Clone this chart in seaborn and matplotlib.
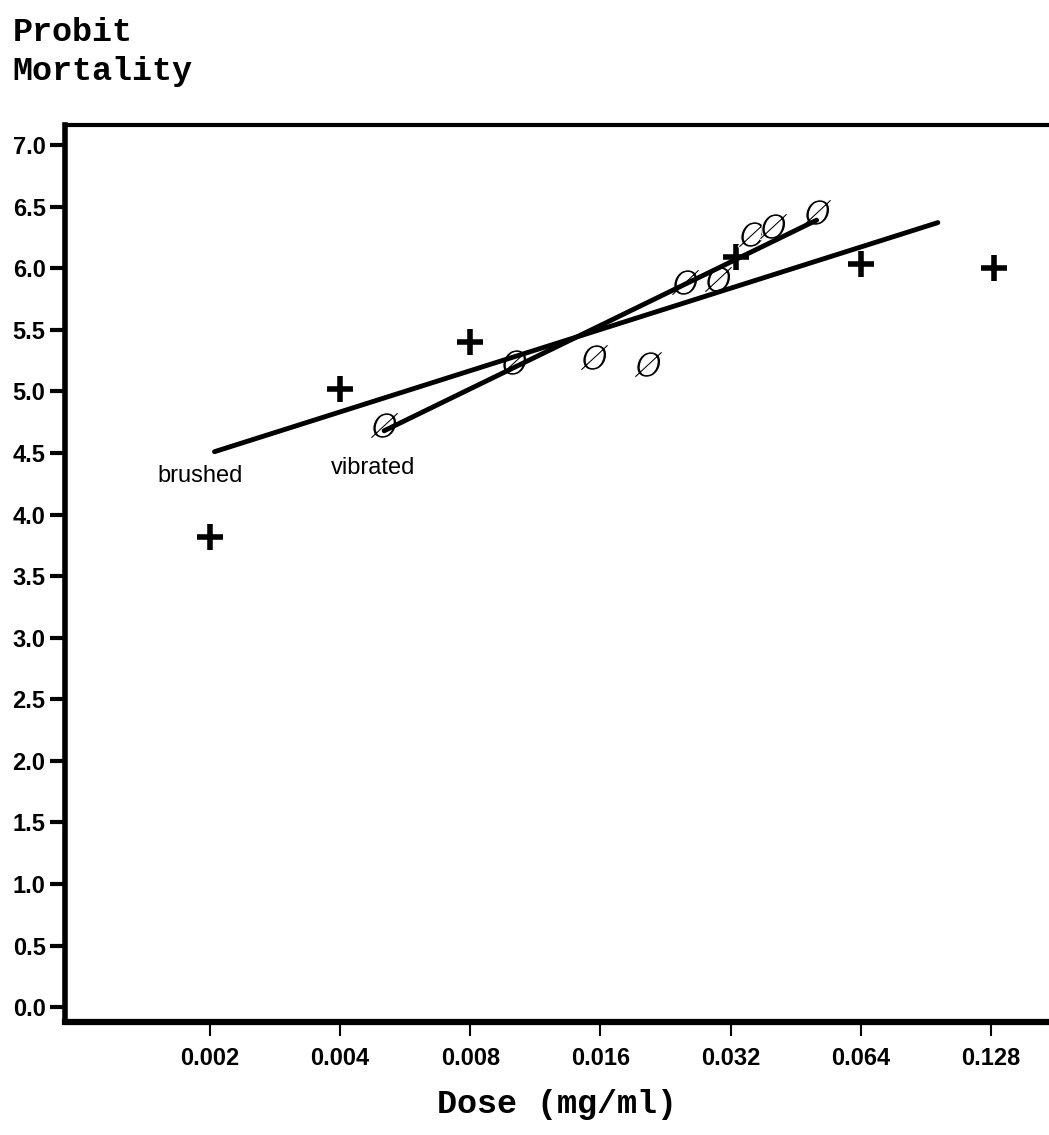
import matplotlib
matplotlib.use("Agg")
import matplotlib.pyplot as plt
import seaborn as sns
import pandas as pd

# brushed (+) points
brushed_dose = [0.002, 0.004, 0.008, 0.033, 0.064, 0.13]
brushed_probit = [3.82, 5.02, 5.40, 6.09, 6.03, 6.00]

# vibrated (Ø) points
vibrated_dose = [0.00506, 0.0101, 0.0155, 0.0206, 0.0251, 0.0300, 0.0358, 0.0401, 0.0506]
vibrated_probit = [4.73, 5.24, 5.28, 5.22, 5.89, 5.91, 6.28, 6.34, 6.46]

# fitted lines (end points)
brushed_fit_dose = [0.00205, 0.0965]
brushed_fit_probit = [4.51, 6.37]
vibrated_fit_dose = [0.00506, 0.0506]
vibrated_fit_probit = [4.68, 6.39]

x_ticks = [0.002, 0.004, 0.008, 0.016, 0.032, 0.064, 0.128]
x_ticklabels = ["0.002", "0.004", "0.008", "0.016", "0.032", "0.064", "0.128"]
y_ticks = [0.0, 0.5, 1.0, 1.5, 2.0, 2.5, 3.0, 3.5, 4.0, 4.5, 5.0, 5.5, 6.0, 6.5, 7.0]

sns.set_style("white")
plt.rcParams["text.color"] = "black"
sans = ["Liberation Sans", "DejaVu Sans"]
mono = ["Liberation Mono", "DejaVu Sans Mono"]

pts_b = pd.DataFrame({"dose": brushed_dose, "probit": brushed_probit})
pts_v = pd.DataFrame({"dose": vibrated_dose, "probit": vibrated_probit})
fit_b = pd.DataFrame({"dose": brushed_fit_dose, "probit": brushed_fit_probit})
fit_v = pd.DataFrame({"dose": vibrated_fit_dose, "probit": vibrated_fit_probit})

fig = plt.figure(figsize=(10.49, 11.35), dpi=100)
ax = fig.add_axes([0.062, 0.0996, 0.938, 0.79])

sns.lineplot(data=fit_b, x="dose", y="probit", color="black", linewidth=3.5, ax=ax)
sns.lineplot(data=fit_v, x="dose", y="probit", color="black", linewidth=3.5, ax=ax)
sns.scatterplot(data=pts_b, x="dose", y="probit", marker="+", s=330, color="black",
                linewidth=4, ax=ax)
sns.scatterplot(data=pts_v, x="dose", y="probit", marker=r"$\O$", s=420, color="black",
                linewidth=0.8, ax=ax)

ax.set_xscale("log", base=2)
ax.set_xlim(0.000925, 0.1744)
ax.set_ylim(-0.12, 7.16)
ax.set_xticks(x_ticks)
ax.set_xticklabels(x_ticklabels, family=sans, fontsize=17, fontweight="bold")
ax.xaxis.set_minor_locator(matplotlib.ticker.NullLocator())
ax.set_yticks(y_ticks)
ax.set_yticklabels([f"{v:.1f}" for v in y_ticks], family=sans, fontsize=17,
                   fontweight="bold")
ax.tick_params(axis="y", direction="out", length=11, width=3, left=True, pad=3,
               color="black", labelcolor="black")
ax.tick_params(axis="x", direction="out", length=10, width=1.5, bottom=True, pad=8,
               color="black", labelcolor="black")

for side in ["left", "bottom", "top"]:
    ax.spines[side].set_color("black")
ax.spines["left"].set_linewidth(4)
ax.spines["bottom"].set_linewidth(4.5)
ax.spines["top"].set_linewidth(3)
ax.spines["right"].set_visible(False)

ax.text(0.0019, 4.31, "brushed", family=sans, fontsize=17, ha="center", va="center",
        color="black")
ax.text(0.00476, 4.38, "vibrated", family=sans, fontsize=17, ha="center", va="center",
        color="black")

ax.set_xlabel("Dose (mg/ml)", family=mono, fontsize=24, fontweight="bold", labelpad=14,
              color="black")
ax.set_ylabel("")
fig.text(0.012, 0.985, "Probit\nMortality", family=mono, fontsize=24, fontweight="bold",
         ha="left", va="top", linespacing=1.35, color="black")

fig.savefig("out.png", dpi=100)
